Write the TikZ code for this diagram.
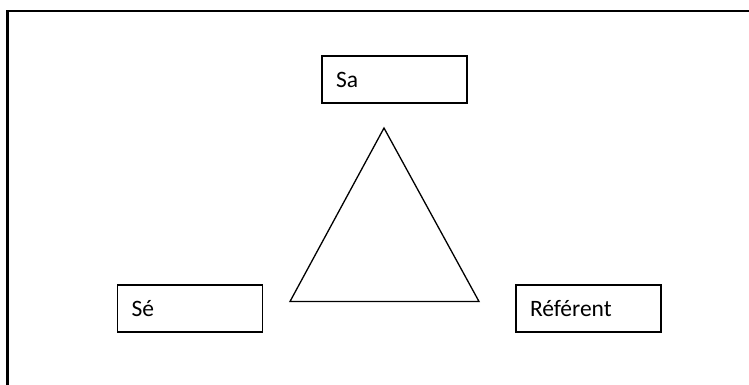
\documentclass[tikz,border=0pt]{standalone}
\usepackage{fontspec}
\setmainfont{Carlito}
\begin{document}
\begin{tikzpicture}[x=1pt,y=1pt,
  labelbox/.style={draw=black,line width=1.8pt,minimum width=145pt,minimum height=47pt,
    text width=117pt,align=left,inner xsep=14pt,inner ysep=0pt,
    font=\fontsize{23.5}{28}\selectfont},
  frameline/.style={draw=black,line width=2.2pt},
  triline/.style={draw=black,line width=1.3pt,line join=miter}]
\useasboundingbox (0,0) rectangle (749,385);
\draw[frameline] (7.5,-10) -- (7.5,374) -- (760,374);
\node[labelbox] (sa) at (394.5,305.5) {Sa};
\node[labelbox] (se) at (190,76.5) {Sé};
\node[labelbox] (ref) at (588.5,76.5) {Référent};
\draw[triline] (384,257) -- (290,83.5) -- (479,83.5) -- cycle;
\end{tikzpicture}
\end{document}
